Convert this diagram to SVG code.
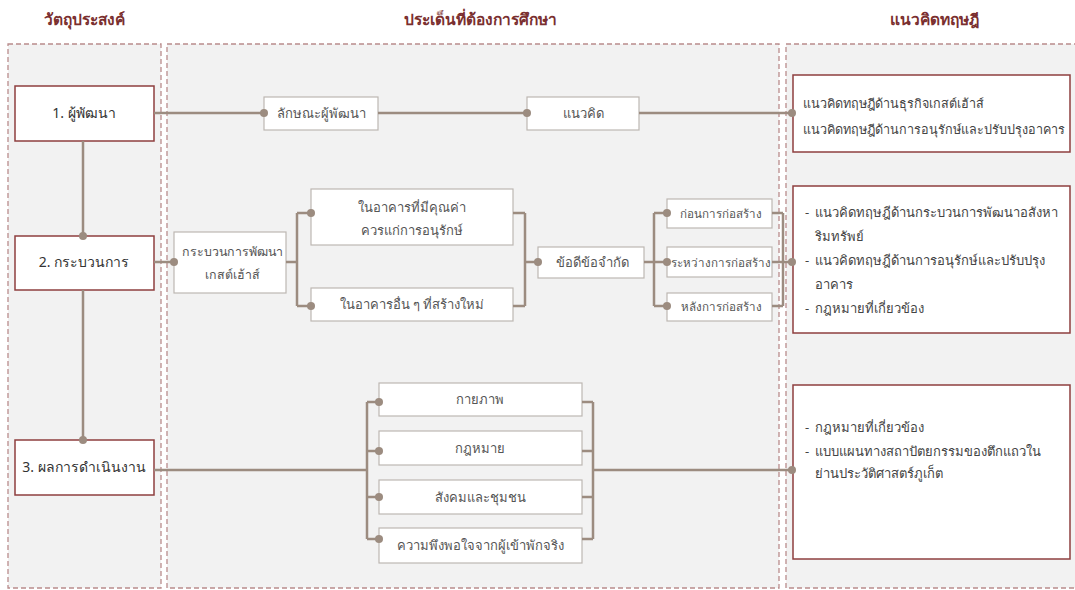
<svg xmlns="http://www.w3.org/2000/svg" width="1075" height="590" viewBox="0 0 1075 590">
<style>
  .panel { fill: #f2f2f2; stroke: #b98c8c; stroke-width: 1.3; stroke-dasharray: 5 3; }
  .head { font-family: "Noto Sans", "DejaVu Sans", sans-serif; font-size: 15.5px; font-weight: bold; fill: #7a2f2f; text-anchor: middle; }
  .obj { fill: #ffffff; stroke: #8e3f3f; stroke-width: 1.5; }
  .sub { fill: #ffffff; stroke: #bdb7b2; stroke-width: 1.2; }
  .t-obj { font-family: "Noto Sans", "DejaVu Sans", sans-serif; font-size: 14px; fill: #333333; text-anchor: middle; }
  .t-sub { font-family: "Noto Sans", "DejaVu Sans", sans-serif; font-size: 13px; fill: #555555; text-anchor: middle; }
  .t-sm { font-size: 11.6px; }
  .t-md { font-size: 12.4px; }
  .t-th { font-family: "Noto Sans", "DejaVu Sans", sans-serif; font-size: 13px; fill: #444444; }
  .t-th1 { font-size: 12.6px; }
  .c { fill: none; stroke: #9c8c80; stroke-width: 2.5; }
  .dot { fill: #9c8c80; }
</style>
<rect x="0" y="0" width="1075" height="590" fill="#ffffff"/>

<g id="panels">
  <rect class="panel" x="8" y="44" width="153" height="544"/>
  <rect class="panel" x="167" y="44" width="612" height="544"/>
  <rect class="panel" x="786" y="44" width="300" height="544"/>
</g>

<g id="headers">
  <text class="head" x="84" y="25">วัตถุประสงค์</text>
  <text class="head" x="480" y="25">ประเด็นที่ต้องการศึกษา</text>
  <text class="head" x="934" y="25">แนวคิดทฤษฎี</text>
</g>

<g id="obj1">
  <rect class="obj" x="15" y="86" width="139" height="55"/>
  <text class="t-obj" x="84" y="118">1. ผู้พัฒนา</text>
</g>
<g id="obj2">
  <rect class="obj" x="15" y="236" width="139" height="54"/>
  <text class="t-obj" x="84" y="267">2. กระบวนการ</text>
</g>
<g id="obj3">
  <rect class="obj" x="15" y="440" width="139" height="55"/>
  <text class="t-obj" x="84" y="472">3. ผลการดำเนินงาน</text>
</g>

<g id="dev-char">
  <rect class="sub" x="264" y="97" width="114" height="33"/>
  <text class="t-sub" x="321" y="118">ลักษณะผู้พัฒนา</text>
</g>
<g id="concept">
  <rect class="sub" x="527" y="97" width="112" height="33"/>
  <text class="t-sub" x="583" y="118">แนวคิด</text>
</g>

<g id="process">
  <rect class="sub" x="174" y="232" width="112" height="61"/>
  <text class="t-sub t-md" x="232" y="256">กระบวนการพัฒนา</text>
  <text class="t-sub t-md" x="232" y="279">เกสต์เฮ้าส์</text>
</g>
<g id="heritage">
  <rect class="sub" x="311" y="189" width="202" height="56"/>
  <text class="t-sub" x="412" y="212">ในอาคารที่มีคุณค่า</text>
  <text class="t-sub" x="412" y="235">ควรแก่การอนุรักษ์</text>
</g>
<g id="newbuild">
  <rect class="sub" x="311" y="288" width="202" height="33"/>
  <text class="t-sub" x="412" y="309">ในอาคารอื่น ๆ ที่สร้างใหม่</text>
</g>
<g id="proscons">
  <rect class="sub" x="538" y="247" width="106" height="31"/>
  <text class="t-sub" x="592" y="267">ข้อดีข้อจำกัด</text>
</g>
<g id="before">
  <rect class="sub" x="667" y="199" width="105" height="29"/>
  <text class="t-sub t-sm" x="721" y="218">ก่อนการก่อสร้าง</text>
</g>
<g id="during">
  <rect class="sub" x="667" y="247" width="105" height="30"/>
  <text class="t-sub t-sm" x="721" y="267">ระหว่างการก่อสร้าง</text>
</g>
<g id="after">
  <rect class="sub" x="667" y="293" width="105" height="28"/>
  <text class="t-sub t-sm" x="721" y="311">หลังการก่อสร้าง</text>
</g>

<g id="physical">
  <rect class="sub" x="379" y="383" width="203" height="33"/>
  <text class="t-sub" x="480" y="404">กายภาพ</text>
</g>
<g id="law">
  <rect class="sub" x="379" y="431" width="203" height="34"/>
  <text class="t-sub" x="480" y="453">กฎหมาย</text>
</g>
<g id="society">
  <rect class="sub" x="379" y="480" width="203" height="34"/>
  <text class="t-sub" x="480" y="502">สังคมและชุมชน</text>
</g>
<g id="satisfaction">
  <rect class="sub" x="379" y="528" width="203" height="35"/>
  <text class="t-sub" x="480" y="550">ความพึงพอใจจากผู้เข้าพักจริง</text>
</g>

<g id="theory1">
  <rect class="obj" x="793" y="75" width="277" height="77"/>
  <text class="t-th t-th1" x="803" y="108">แนวคิดทฤษฎีด้านธุรกิจเกสต์เฮ้าส์</text>
  <text class="t-th t-th1" x="803" y="134">แนวคิดทฤษฎีด้านการอนุรักษ์และปรับปรุงอาคาร</text>
</g>
<g id="theory2">
  <rect class="obj" x="793" y="186" width="277" height="147"/>
  <text class="t-th" x="805" y="217">-</text>
  <text class="t-th" x="815" y="217">แนวคิดทฤษฎีด้านกระบวนการพัฒนาอสังหา</text>
  <text class="t-th" x="815" y="241">ริมทรัพย์</text>
  <text class="t-th" x="805" y="265">-</text>
  <text class="t-th" x="815" y="265">แนวคิดทฤษฎีด้านการอนุรักษ์และปรับปรุง</text>
  <text class="t-th" x="815" y="289">อาคาร</text>
  <text class="t-th" x="805" y="313">-</text>
  <text class="t-th" x="815" y="313">กฎหมายที่เกี่ยวข้อง</text>
</g>
<g id="theory3">
  <rect class="obj" x="793" y="385" width="277" height="174"/>
  <text class="t-th" x="805" y="432">-</text>
  <text class="t-th" x="815" y="432">กฎหมายที่เกี่ยวข้อง</text>
  <text class="t-th" x="805" y="456">-</text>
  <text class="t-th" x="815" y="456">แบบแผนทางสถาปัตยกรรมของตึกแถวใน</text>
  <text class="t-th" x="815" y="478">ย่านประวัติศาสตร์ภูเก็ต</text>
</g>

<g id="connectors">
  <path class="c" d="M154 113 H264 M378 113 H527 M639 113 H792"/>
  <path class="c" d="M83 141 V236 M83 290 V440"/>
  <path class="c" d="M154 262 H174 M286 262 H297 M297 213 V306 M297 213 H311 M297 306 H311"/>
  <path class="c" d="M513 213 H525 M513 306 H525 M525 213 V306 M525 262 H538"/>
  <path class="c" d="M644 262 H654 M654 213 V306 M654 213 H667 M654 262 H667 M654 306 H667"/>
  <path class="c" d="M772 213 H783 M772 262 H783 M772 306 H783 M783 213 V306 M783 262 H792"/>
  <path class="c" d="M154 470 H367 M367 402 V539 M367 402 H379 M367 451 H379 M367 497 H379 M367 539 H379"/>
  <path class="c" d="M582 402 H593 M582 451 H593 M582 497 H593 M582 539 H593 M593 402 V539 M593 470 H792"/>
  <circle class="dot" cx="264" cy="113" r="4"/>
  <circle class="dot" cx="527" cy="113" r="4"/>
  <circle class="dot" cx="792" cy="113" r="4"/>
  <circle class="dot" cx="83" cy="236" r="4"/>
  <circle class="dot" cx="83" cy="440" r="4"/>
  <circle class="dot" cx="174" cy="262" r="4"/>
  <circle class="dot" cx="311" cy="213" r="4"/>
  <circle class="dot" cx="311" cy="306" r="4"/>
  <circle class="dot" cx="538" cy="262" r="4"/>
  <circle class="dot" cx="667" cy="213" r="4"/>
  <circle class="dot" cx="667" cy="262" r="4"/>
  <circle class="dot" cx="667" cy="306" r="4"/>
  <circle class="dot" cx="792" cy="262" r="4"/>
  <circle class="dot" cx="379" cy="402" r="4"/>
  <circle class="dot" cx="379" cy="451" r="4"/>
  <circle class="dot" cx="379" cy="497" r="4"/>
  <circle class="dot" cx="379" cy="539" r="4"/>
  <circle class="dot" cx="792" cy="470" r="4"/>
</g>
</svg>
